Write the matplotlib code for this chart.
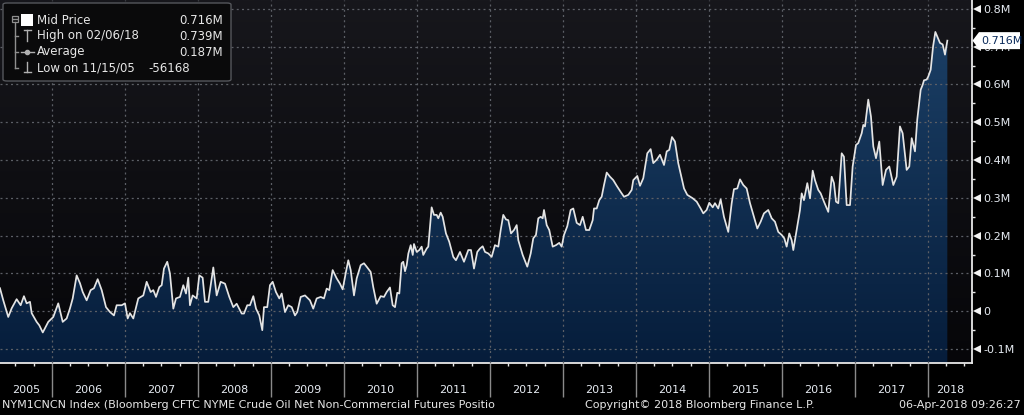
import numpy as np
import matplotlib
matplotlib.use('Agg')
import matplotlib.pyplot as plt
from matplotlib.patches import FancyBboxPatch, PathPatch, Polygon, Rectangle
from matplotlib.colors import LinearSegmentedColormap
from matplotlib.lines import Line2D
from matplotlib import transforms

# ---------------- data (decimal years, values in millions of contracts) ----------------
dates = [
    2005.288, 2005.333, 2005.401, 2005.448, 2005.516, 2005.571, 2005.616, 2005.653, 2005.699, 2005.722,
    2005.790, 2005.826, 2005.874, 2005.949, 2006.018, 2006.086, 2006.147, 2006.201, 2006.247, 2006.284,
    2006.338, 2006.384, 2006.421, 2006.475, 2006.530, 2006.575, 2006.626, 2006.681, 2006.740, 2006.795,
    2006.849, 2006.886, 2006.955, 2007.000, 2007.037, 2007.068, 2007.114, 2007.182, 2007.251, 2007.297,
    2007.352, 2007.388, 2007.425, 2007.470, 2007.503, 2007.534, 2007.579, 2007.616, 2007.662, 2007.699,
    2007.753, 2007.799, 2007.836, 2007.867, 2007.890, 2007.927, 2007.982, 2008.018, 2008.064, 2008.096,
    2008.141, 2008.210, 2008.256, 2008.311, 2008.370, 2008.429, 2008.484, 2008.530, 2008.599, 2008.630,
    2008.675, 2008.712, 2008.758, 2008.795, 2008.840, 2008.881, 2008.904, 2008.949, 2008.986, 2009.023,
    2009.068, 2009.114, 2009.147, 2009.192, 2009.237, 2009.284, 2009.329, 2009.360, 2009.407, 2009.466,
    2009.534, 2009.579, 2009.626, 2009.681, 2009.726, 2009.763, 2009.799, 2009.845, 2009.900, 2009.945,
    2009.982, 2010.027, 2010.059, 2010.092, 2010.137, 2010.174, 2010.229, 2010.274, 2010.311, 2010.366,
    2010.401, 2010.448, 2010.503, 2010.548, 2010.585, 2010.630, 2010.667, 2010.699, 2010.730, 2010.758,
    2010.790, 2010.812, 2010.836, 2010.859, 2010.882, 2010.914, 2010.942, 2010.959, 2010.996, 2011.032,
    2011.064, 2011.086, 2011.133, 2011.155, 2011.201, 2011.233, 2011.270, 2011.292, 2011.325, 2011.352,
    2011.397, 2011.442, 2011.497, 2011.534, 2011.589, 2011.644, 2011.703, 2011.740, 2011.781, 2011.826,
    2011.863, 2011.900, 2011.932, 2011.977, 2012.023, 2012.068, 2012.114, 2012.147, 2012.182, 2012.219,
    2012.251, 2012.288, 2012.329, 2012.366, 2012.388, 2012.448, 2012.511, 2012.558, 2012.593, 2012.630,
    2012.662, 2012.695, 2012.722, 2012.740, 2012.777, 2012.812, 2012.859, 2012.904, 2012.949, 2012.982,
    2013.014, 2013.059, 2013.105, 2013.141, 2013.188, 2013.233, 2013.270, 2013.315, 2013.360, 2013.407,
    2013.425, 2013.462, 2013.497, 2013.530, 2013.562, 2013.599, 2013.644, 2013.689, 2013.736, 2013.790,
    2013.836, 2013.895, 2013.941, 2013.963, 2014.018, 2014.055, 2014.100, 2014.155, 2014.201, 2014.237,
    2014.284, 2014.329, 2014.384, 2014.421, 2014.456, 2014.493, 2014.534, 2014.579, 2014.626, 2014.658,
    2014.703, 2014.777, 2014.832, 2014.886, 2014.922, 2014.968, 2015.004, 2015.051, 2015.082, 2015.127,
    2015.160, 2015.205, 2015.264, 2015.311, 2015.342, 2015.388, 2015.425, 2015.470, 2015.516, 2015.562,
    2015.616, 2015.662, 2015.708, 2015.753, 2015.812, 2015.859, 2015.904, 2015.949, 2015.996, 2016.032,
    2016.064, 2016.100, 2016.133, 2016.155, 2016.201, 2016.247, 2016.270, 2016.301, 2016.347, 2016.384,
    2016.421, 2016.452, 2016.497, 2016.530, 2016.575, 2016.634, 2016.681, 2016.712, 2016.740, 2016.771,
    2016.818, 2016.849, 2016.886, 2016.932, 2016.968, 2017.014, 2017.045, 2017.092, 2017.114, 2017.137,
    2017.182, 2017.219, 2017.251, 2017.288, 2017.333, 2017.379, 2017.425, 2017.470, 2017.525, 2017.571,
    2017.616, 2017.653, 2017.708, 2017.744, 2017.777, 2017.822, 2017.853, 2017.900, 2017.927, 2017.945,
    2017.982, 2018.004, 2018.037, 2018.070, 2018.101, 2018.101, 2018.164, 2018.201, 2018.233, 2018.256,
    2018.265,
]
values = [
    0.061, 0.029, -0.015, 0.008, 0.032, 0.016, 0.040, 0.021, 0.025, -0.005,
    -0.028, -0.037, -0.056, -0.028, -0.015, 0.021, -0.028, -0.019, 0.008, 0.034,
    0.095, 0.074, 0.051, 0.029, 0.056, 0.061, 0.085, 0.056, 0.011, -0.002,
    -0.011, 0.016, 0.016, 0.021, -0.019, -0.005, -0.019, 0.034, 0.042, 0.078,
    0.051, 0.056, 0.038, 0.064, 0.069, 0.113, 0.131, 0.100, 0.007, 0.034,
    0.038, 0.069, 0.047, 0.089, 0.016, 0.042, 0.034, 0.095, 0.089, 0.025,
    0.025, 0.116, 0.042, 0.078, 0.073, 0.038, 0.011, 0.020, -0.006, -0.006,
    0.016, 0.016, 0.040, 0.007, -0.011, -0.050, 0.011, 0.011, 0.069, 0.078,
    0.051, 0.034, 0.047, -0.002, 0.016, 0.011, -0.011, -0.002, 0.038, 0.042,
    0.029, 0.007, 0.034, 0.038, 0.034, 0.060, 0.056, 0.109, 0.087, 0.073,
    0.058, 0.104, 0.135, 0.109, 0.042, 0.087, 0.122, 0.127, 0.118, 0.104,
    0.064, 0.020, 0.040, 0.038, 0.051, 0.063, 0.016, 0.011, 0.049, 0.047,
    0.127, 0.131, 0.106, 0.122, 0.153, 0.175, 0.149, 0.178, 0.157, 0.162,
    0.171, 0.149, 0.166, 0.171, 0.275, 0.255, 0.255, 0.246, 0.261, 0.250,
    0.206, 0.184, 0.144, 0.135, 0.157, 0.131, 0.162, 0.162, 0.113, 0.157,
    0.166, 0.172, 0.157, 0.153, 0.144, 0.175, 0.171, 0.215, 0.255, 0.243,
    0.241, 0.206, 0.215, 0.228, 0.188, 0.149, 0.118, 0.153, 0.193, 0.202,
    0.246, 0.250, 0.246, 0.268, 0.228, 0.215, 0.171, 0.175, 0.181, 0.171,
    0.202, 0.225, 0.268, 0.272, 0.234, 0.228, 0.250, 0.215, 0.215, 0.241,
    0.272, 0.272, 0.294, 0.303, 0.334, 0.367, 0.356, 0.347, 0.332, 0.316,
    0.303, 0.308, 0.321, 0.347, 0.358, 0.332, 0.352, 0.418, 0.429, 0.392,
    0.401, 0.414, 0.387, 0.423, 0.427, 0.461, 0.449, 0.392, 0.352, 0.325,
    0.308, 0.299, 0.290, 0.272, 0.259, 0.268, 0.287, 0.275, 0.286, 0.272,
    0.296, 0.250, 0.210, 0.286, 0.323, 0.325, 0.349, 0.334, 0.325, 0.286,
    0.250, 0.219, 0.237, 0.259, 0.268, 0.246, 0.237, 0.210, 0.202, 0.193,
    0.171, 0.206, 0.188, 0.162, 0.215, 0.268, 0.312, 0.294, 0.339, 0.299,
    0.372, 0.347, 0.321, 0.312, 0.290, 0.263, 0.356, 0.339, 0.290, 0.286,
    0.418, 0.409, 0.281, 0.281, 0.383, 0.440, 0.445, 0.471, 0.493, 0.489,
    0.560, 0.515, 0.436, 0.405, 0.449, 0.334, 0.374, 0.383, 0.334, 0.356,
    0.489, 0.471, 0.374, 0.383, 0.458, 0.423, 0.507, 0.586, 0.599, 0.611,
    0.613, 0.621, 0.639, 0.701, 0.739, 0.739, 0.710, 0.706, 0.679, 0.706,
    0.716,
]
years = list(range(2005, 2019))
y_ticks = [-0.1, 0.0, 0.1, 0.2, 0.3, 0.4, 0.5, 0.6, 0.7, 0.8]
y_tick_labels = ['-0.1M', '0', '0.1M', '0.2M', '0.3M', '0.4M', '0.5M', '0.6M', '0.7M', '0.8M']
last_value = 0.716
legend_labels = ['Mid Price', 'High on 02/06/18', 'Average', 'Low on 11/15/05']
legend_values = ['0.716M', '0.739M', '0.187M', '-56168']
footer_left = "NYM1CNCN Index (Bloomberg CFTC NYME Crude Oil Net Non-Commercial Futures Positio"
footer_mid = "Copyright\u00a9 2018 Bloomberg Finance L.P."
footer_right = "06-Apr-2018 09:26:27"

# ---------------- figure / layout ----------------
W, H = 1024, 415
plt.rcParams['font.family'] = ['DejaVu Sans']
fig = plt.figure(figsize=(W / 100, H / 100), dpi=100, facecolor='black')

def P(px, py):
    return (px / W, 1 - py / H)

ax_bottom_px, ax_right_px = 362.7, 972.0
ax = fig.add_axes([0, 1 - ax_bottom_px / H, ax_right_px / W, ax_bottom_px / H])
ax.set_facecolor('#0c0c10')
xmin, xmax = 2005.288, 2018.603
ymin, ymax = -0.136, 0.8235

grad = np.linspace(0, 1, 256).reshape(-1, 1)
bg_cmap = LinearSegmentedColormap.from_list('bg', ['#060609', '#17171c'])
ax.imshow(grad, cmap=bg_cmap, origin='lower', extent=[xmin, xmax, ymin, ymax],
          aspect='auto', zorder=0, interpolation='bilinear')

# area fill with vertical gradient
poly = ax.fill_between(dates, values, ymin, facecolor='none', edgecolor='none')
clip = PathPatch(poly.get_paths()[0], transform=ax.transData, facecolor='none', edgecolor='none')
ax.add_patch(clip)
fill_cmap = LinearSegmentedColormap.from_list('fg', ['#061d3b', '#1d4269'])
im = ax.imshow(grad, cmap=fill_cmap, origin='lower', extent=[xmin, xmax, ymin, ymax],
               aspect='auto', zorder=1, interpolation='bilinear')
im.set_clip_path(clip)

ax.plot(dates, values, color='#e4e4e4', lw=1.25, zorder=3, solid_joinstyle='round')

ax.set_xlim(xmin, xmax)
ax.set_ylim(ymin, ymax)

# grid
ax.set_axisbelow(False)
ax.grid(True, which='major', color='#5c5f66', linestyle=(0, (1.6, 2.6)), linewidth=0.9)

# spines
for s in ['left', 'top']:
    ax.spines[s].set_visible(False)
for s in ['right', 'bottom']:
    ax.spines[s].set_color('#e8e8e8')
    ax.spines[s].set_linewidth(1.3)

# x axis: year separators (major) and quarterly minor ticks
ax.set_xticks(years[1:])
ax.set_xticklabels([])
ax.set_xticks([y + q / 4 for y in years for q in range(4) if xmin < y + q / 4 < xmax], minor=True)
ax.tick_params(axis='x', which='major', direction='out', length=24.5, width=1.0, color='#8a8a8a')
ax.tick_params(axis='x', which='minor', direction='out', length=2.4, width=1.0, color='#e8e8e8')
xt = ax.get_xaxis_transform()
for y in years:
    lo, hi = max(y, xmin), min(y + 1, xmax)
    ax.text((lo + hi) / 2, -(390 - ax_bottom_px) / ax_bottom_px, str(y), transform=xt,
            ha='center', va='center', color='#e6ebf2', fontsize=8)

# y axis on the right
ax.yaxis.tick_right()
ax.set_yticks(y_ticks)
ax.set_yticklabels(y_tick_labels)
ax.set_yticks([v + 0.05 for v in y_ticks[:-1]], minor=True)
ax.tick_params(axis='y', which='major', length=0, pad=8.2, labelsize=8, labelcolor='#e6ebf2')
ax.tick_params(axis='y', which='minor', direction='out', length=2.4, width=1.0, color='#e8e8e8')
tri_tr = transforms.offset_copy(ax.get_yaxis_transform(), fig=fig, x=4.6, y=0, units='dots')
for v in y_ticks:
    ax.plot([1.0], [v], marker='<', ms=6.2, mew=0, color='#f2f2f2', transform=tri_tr,
            clip_on=False, zorder=5)

# last value box
fig.canvas.draw()
_, py_disp = ax.transData.transform((xmax, last_value))
x0 = ax.transAxes.transform((1, 0))[0]
hh = 8.5
box = Polygon([(x0 + 0.5, py_disp), (x0 + 7, py_disp + hh), (W - 4, py_disp + hh),
               (W - 4, py_disp - hh), (x0 + 7, py_disp - hh)], closed=True,
              transform=transforms.IdentityTransform(), facecolor='white', edgecolor='none', zorder=10)
fig.add_artist(box)
fig.text((x0 + 9) / W, py_disp / H, f'{last_value:.3f}M', ha='left', va='center',
         color='#0a2a5a', fontsize=8, zorder=11)

# legend box (top-left)
lx, ly = P(3, 81)
fig.add_artist(FancyBboxPatch((lx, ly), 228 / W, 78 / H,
                              boxstyle='round,pad=0,rounding_size=0.004',
                              transform=fig.transFigure, facecolor='#0a0a0b',
                              edgecolor='#55575c', lw=1.0, zorder=8))
rows_y = [20.5, 36, 52, 68]
for lab, val, ry in zip(legend_labels, legend_values, rows_y):
    fig.text(*P(37, ry), lab, ha='left', va='center', color='#e6e6e6', fontsize=8.5, zorder=9)
vx = [223, 223, 223, 190]
for val, ry, xx in zip(legend_values, rows_y, vx):
    fig.text(*P(xx, ry), val, ha='right', va='center', color='#e6e6e6', fontsize=8.5, zorder=9)

gray = '#8f8f8f'
def seg(x1, y1, x2, y2, c=gray, lw=1.0):
    (a, b), (c2, d) = P(x1, y1), P(x2, y2)
    fig.add_artist(Line2D([a, c2], [b, d], color=c, lw=lw, transform=fig.transFigure, zorder=9))

# tree structure
rx, ry0 = P(11.5, 22)
fig.add_artist(Rectangle((rx, ry0), 6 / W, 6 / H, transform=fig.transFigure,
                         facecolor='none', edgecolor=gray, lw=0.9, zorder=9))
seg(13, 19, 16.5, 19)
seg(14.5, 22, 14.5, 68)
for r in rows_y[1:]:
    seg(14.5, r, 18, r)
# icons
sx, sy = P(21, 26)
fig.add_artist(Rectangle((sx, sy), 12 / W, 12 / H, transform=fig.transFigure,
                         facecolor='white', edgecolor='none', zorder=9))
seg(23.5, 30.5, 30.5, 30.5, '#b0b0b0'); seg(27, 30.5, 27, 41, '#b0b0b0')
seg(20.5, 52, 34, 52, '#b0b0b0')
fig.add_artist(Line2D([P(27, 52)[0]], [P(27, 52)[1]], marker='o', ms=3, color='#b0b0b0',
                      transform=fig.transFigure, zorder=9))
seg(27, 62, 27, 72, '#b0b0b0'); seg(23.5, 72, 30.5, 72, '#b0b0b0')

# footer
fig.text(*P(2, 405), footer_left, ha='left', va='center', color='#e6e6e6', fontsize=8)
fig.text(*P(585, 405), footer_mid, ha='left', va='center', color='#e6e6e6', fontsize=8)
fig.text(*P(1021, 405), footer_right, ha='right', va='center', color='#e6e6e6', fontsize=8)

fig.savefig('out.png', dpi=100, facecolor='black')
